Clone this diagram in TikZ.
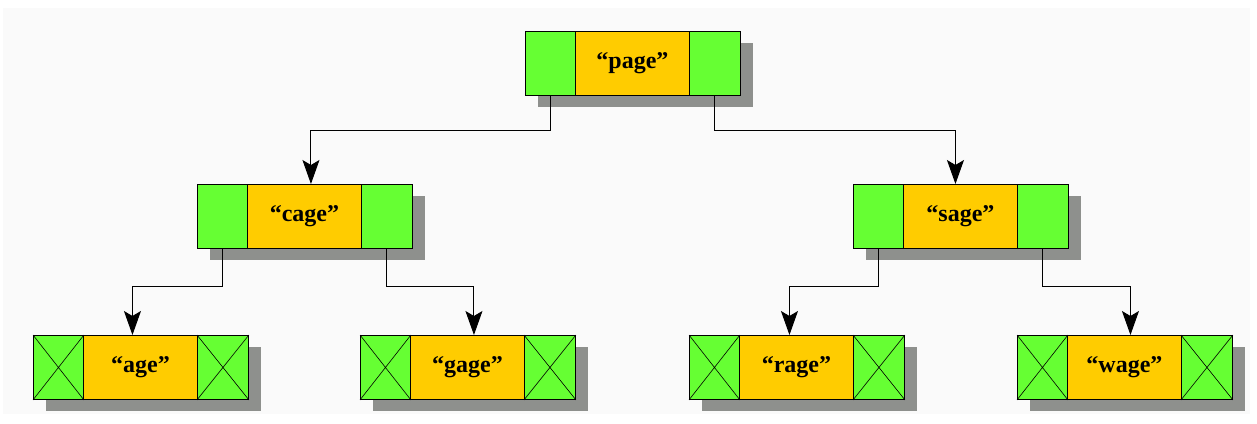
\documentclass[tikz,border=0pt]{standalone}
\usepackage{fontspec}
\setmainfont{Liberation Serif}
\usetikzlibrary{arrows.meta}
\definecolor{bgc}{HTML}{FAFAFA}
\definecolor{grn}{HTML}{66FF33}
\definecolor{ylw}{HTML}{FFCC00}
\definecolor{shd}{HTML}{8E908D}
\tikzset{
  cellbase/.style={draw=black, line width=0.9pt, minimum height=64, inner sep=0, anchor=north west},
  gcell/.style={cellbase, fill=grn, minimum width=50},
  ycell/.style={cellbase, fill=ylw, minimum width=114, font=\fontsize{24}{26}\selectfont\bfseries},
  conn/.style={draw=black, line width=1pt, -{Stealth[length=24pt,width=17pt,inset=5pt]}},
  crossln/.style={draw=black, line width=0.6pt}
}
\newcommand\rec[4]{%
  \fill[shd] (#2+13,#3+12) rectangle ++(215,64);
  \node[gcell] (#1L) at (#2,#3) {};
  \node[ycell] (#1) at (#2+50,#3) {#4};
  \node[gcell, minimum width=51] (#1R) at (#2+164,#3) {};
}
\newcommand\xrec[4]{%
  \rec{#1}{#2}{#3}{#4}
  \draw[crossln] (#1L.north west) -- (#1L.south east) (#1L.north east) -- (#1L.south west);
  \draw[crossln] (#1R.north west) -- (#1R.south east) (#1R.north east) -- (#1R.south west);
}
\begin{document}
\begin{tikzpicture}[x=1pt,y=-1pt]
\useasboundingbox (0,0) rectangle (1257,423);
\fill[bgc] (3,8) rectangle (1250,414);
\rec{page}{525}{31}{“page”}
\rec{cage}{197}{184}{“cage”}
\rec{sage}{853}{184}{“sage”}
\xrec{age}{33}{335}{“age”}
\xrec{gage}{360}{335}{“gage”}
\xrec{rage}{689}{335}{“rage”}
\xrec{wage}{1017}{335}{“wage”}
\draw[conn] (pageL.south) -- ++(0,35) -| ([xshift=6.5]cage.north);
\draw[conn] (pageR.south) -- ++(0,35) -| ([xshift=-5]sage.north);
\draw[conn] (cageL.south) -- ++(0,38) -| ([xshift=-8]age.north);
\draw[conn] (cageR.south) -- ++(0,38) -| ([xshift=6.5]gage.north);
\draw[conn] (sageL.south) -- ++(0,38) -| ([xshift=-7]rage.north);
\draw[conn] (sageR.south) -- ++(0,38) -| ([xshift=6]wage.north);
\end{tikzpicture}
\end{document}
